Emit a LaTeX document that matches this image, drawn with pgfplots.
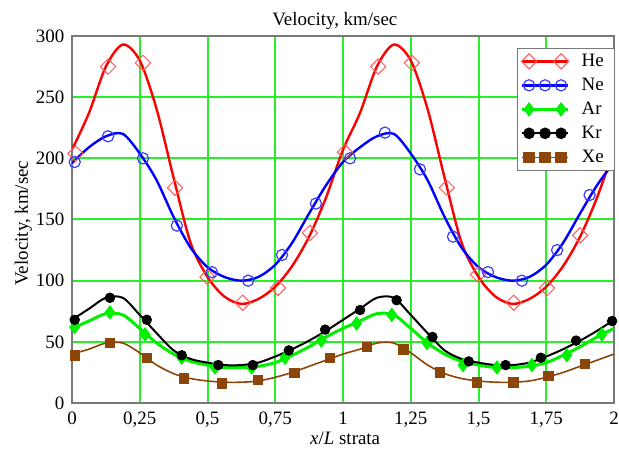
\documentclass[border=0pt]{standalone}
\usepackage{fontspec}
\setmainfont{Liberation Serif}
\usepackage{pgfplots}
\usepackage{pgfplotstable}
\pgfplotsset{compat=1.18}
\definecolor{hecol}{RGB}{255,0,0}
\definecolor{hemark}{RGB}{255,90,90}
\definecolor{necol}{RGB}{0,0,255}
\definecolor{nemark}{RGB}{60,60,255}
\definecolor{arcol}{RGB}{0,240,0}
\definecolor{krcol}{RGB}{0,0,0}
\definecolor{xecol}{RGB}{140,70,10}
\definecolor{gridgreen}{RGB}{40,240,40}
\definecolor{framegray}{RGB}{120,120,120}
\newcommand{\fs}{\fontsize{9.5}{11}\selectfont}
\newcommand{\legtwoimg}[1]{\draw[#1, mark=none] (0bp,0bp) -- (23bp,0bp); \draw[#1, only marks] plot coordinates {(3.5bp,0bp) (19.5bp,0bp)};}
\newcommand{\legthreeimg}[1]{\draw[#1, mark=none] (0bp,0bp) -- (23bp,0bp); \draw[#1, only marks] plot coordinates {(3.5bp,0bp) (11.5bp,0bp) (19.5bp,0bp)};}
\pgfplotsset{
  legtwo/.style={legend image code/.code={\legtwoimg{##1}}},
  legthree/.style={legend image code/.code={\legthreeimg{##1}}},
}

\pgfplotstableread{
x he ne ar kr xe
0 207 196 61 68 40
0.0625 237 209 67 77 44
0.125 275 218 73 86 49
0.1875 293 220 72 86 49
0.25 280 204 61 72 41
0.3125 240 182 49 57 31
0.375 184 152 40 43 24
0.4375 131 127 34 36 20
0.5 103 111 31 33 18
0.5625 87 103 29 31 17
0.625 81 100 29 31 17
0.6875 85 103 30 33 18
0.75 95 113 33 38 21
0.8125 112 131 39 44 25
0.875 136 155 46 51 30
0.9375 168 178 54 59 35
1 207 197 61 68 40
1.0625 237 209 67 77 44
1.125 275 218 73 86 49
1.1875 293 220 72 86 49
1.25 280 204 61 72 41
1.3125 240 182 49 57 31
1.375 184 152 40 43 24
1.4375 131 127 34 36 20
1.5 103 111 31 33 18
1.5625 87 103 29 31 17
1.625 81 100 29 31 17
1.6875 85 103 30 33 18
1.75 95 113 33 38 21
1.8125 112 131 39 44 25
1.875 136 155 46 51 30
1.9375 168 178 54 59 35
2 207 197 61 68 40
}\lines

\begin{document}
\begin{tikzpicture}
\useasboundingbox (-36bp,-23.5bp) rectangle (273.5bp,201.5bp);
\begin{axis}[
  scale only axis, width=271bp, height=183.5bp,
  at={(0,0)}, anchor=south west,
  xmin=0, xmax=2, ymin=0, ymax=300,
  xtick={0,0.25,0.5,0.75,1,1.25,1.5,1.75,2},
  xticklabels={0,{0,25},{0,5},{0,75},1,{1,25},{1,5},{1,75},2},
  ytick={0,50,100,150,200,250,300},
  yticklabels={0,50,100,150,200,250,300},
  major tick length=0pt,
  grid=major,
  grid style={gridgreen, line width=1bp},
  axis line style={framegray, line width=1.1bp},
  tick label style={font=\fs},
  xticklabel style={anchor=base, yshift=-10.5bp},
  yticklabel style={anchor=east, xshift=-0.3bp},
  title={Velocity, km/sec},
  every axis title/.style={font=\fs, at={(axis description cs:0.485,1)}, anchor=base, yshift=5.5bp},
  xlabel={\textit{x}/\textit{L} strata},
  xlabel style={font=\fs, at={(axis description cs:0.504,0)}, anchor=base, yshift=-20.5bp},
  ylabel={Velocity, km/sec},
  ylabel style={font=\fs, at={(axis description cs:-0.0812,0.49)}, anchor=base},
  legend style={at={(axis description cs:0.821,0.968)}, anchor=north west,
    draw=framegray, line width=0.6bp, inner xsep=1.5bp, inner ysep=0.5bp, font=\fs,
    nodes={text height=6.8bp, text depth=2bp, inner ysep=1.6bp, inner xsep=4bp},
    /tikz/every odd column/.append style={column sep=2bp}},
  legend cell align=left,
]
% lines
\addplot[hecol, line width=1.2bp, smooth, forget plot] table[x=x, y=he] {\lines};
\addplot[necol, line width=1.2bp, smooth, forget plot] table[x=x, y=ne] {\lines};
\addplot[arcol, line width=1.5bp, smooth, forget plot] table[x=x, y=ar] {\lines};
\addplot[krcol, line width=1bp, smooth, forget plot] table[x=x, y=kr] {\lines};
\addplot[xecol, line width=0.8bp, smooth, forget plot] table[x=x, y=xe] {\lines};
% markers
\addplot[only marks, forget plot, mark=square, mark size=2.7bp, mark options={hemark, line width=0.5bp, rotate=45}] coordinates {
(0.013,204) (0.133,275) (0.262,278) (0.38,176) (0.5,103) (0.63,82) (0.76,94) (0.878,139)
(1.007,205) (1.13,275) (1.254,278) (1.383,176) (1.498,105) (1.63,82) (1.753,94) (1.875,137)};
\addplot[only marks, forget plot, mark=o, mark size=2.8bp, mark options={nemark, line width=0.6bp}] coordinates {
(0.01,197) (0.133,218) (0.262,200) (0.387,145) (0.516,107) (0.65,100) (0.775,121) (0.90,163)
(1.026,200) (1.155,221) (1.284,191) (1.406,136) (1.535,107) (1.66,100) (1.79,125) (1.91,170)};
\addplot[only marks, forget plot, mark=diamond*, mark size=3.4bp, mark options={arcol, line width=0.3bp}] coordinates {
(0.01,62) (0.14,74) (0.27,56) (0.405,37) (0.528,29) (0.663,29) (0.786,37) (0.92,51)
(1.05,65) (1.18,72) (1.31,49) (1.443,31) (1.568,29) (1.697,31) (1.826,39) (1.955,56)};
\addplot[only marks, forget plot, mark=*, mark size=2.4bp, mark options={krcol}] coordinates {
(0.01,68) (0.14,86) (0.276,68) (0.405,39) (0.54,31) (0.667,31) (0.80,43) (0.934,60)
(1.063,76) (1.198,84) (1.33,54) (1.464,34) (1.60,31) (1.73,37) (1.86,51) (1.993,67)};
\addplot[only marks, forget plot, mark=square*, mark size=2.4bp, mark options={xecol}] coordinates {
(0.01,39) (0.14,49) (0.276,37) (0.413,20) (0.553,16) (0.686,19) (0.82,24.5) (0.952,37)
(1.088,46) (1.222,44) (1.358,25) (1.494,17) (1.628,17) (1.757,22) (1.893,32)};
% legend
\addlegendimage{hecol, line width=1.2bp, mark=square, mark size=2.7bp, mark options={hemark, line width=0.5bp, rotate=45}, legtwo}
\addlegendentry{He}
\addlegendimage{necol, line width=1.2bp, mark=o, mark size=2.8bp, mark options={nemark, line width=0.6bp}, legthree}
\addlegendentry{Ne}
\addlegendimage{arcol, line width=1.5bp, mark=diamond*, mark size=3.4bp, mark options={arcol, line width=0.3bp}, legtwo}
\addlegendentry{Ar}
\addlegendimage{krcol, line width=1bp, mark=*, mark size=2.4bp, mark options={krcol}, legthree}
\addlegendentry{Kr}
\addlegendimage{xecol, line width=0.8bp, mark=square*, mark size=2.4bp, mark options={xecol}, legthree}
\addlegendentry{Xe}
\end{axis}
\end{tikzpicture}
\end{document}
